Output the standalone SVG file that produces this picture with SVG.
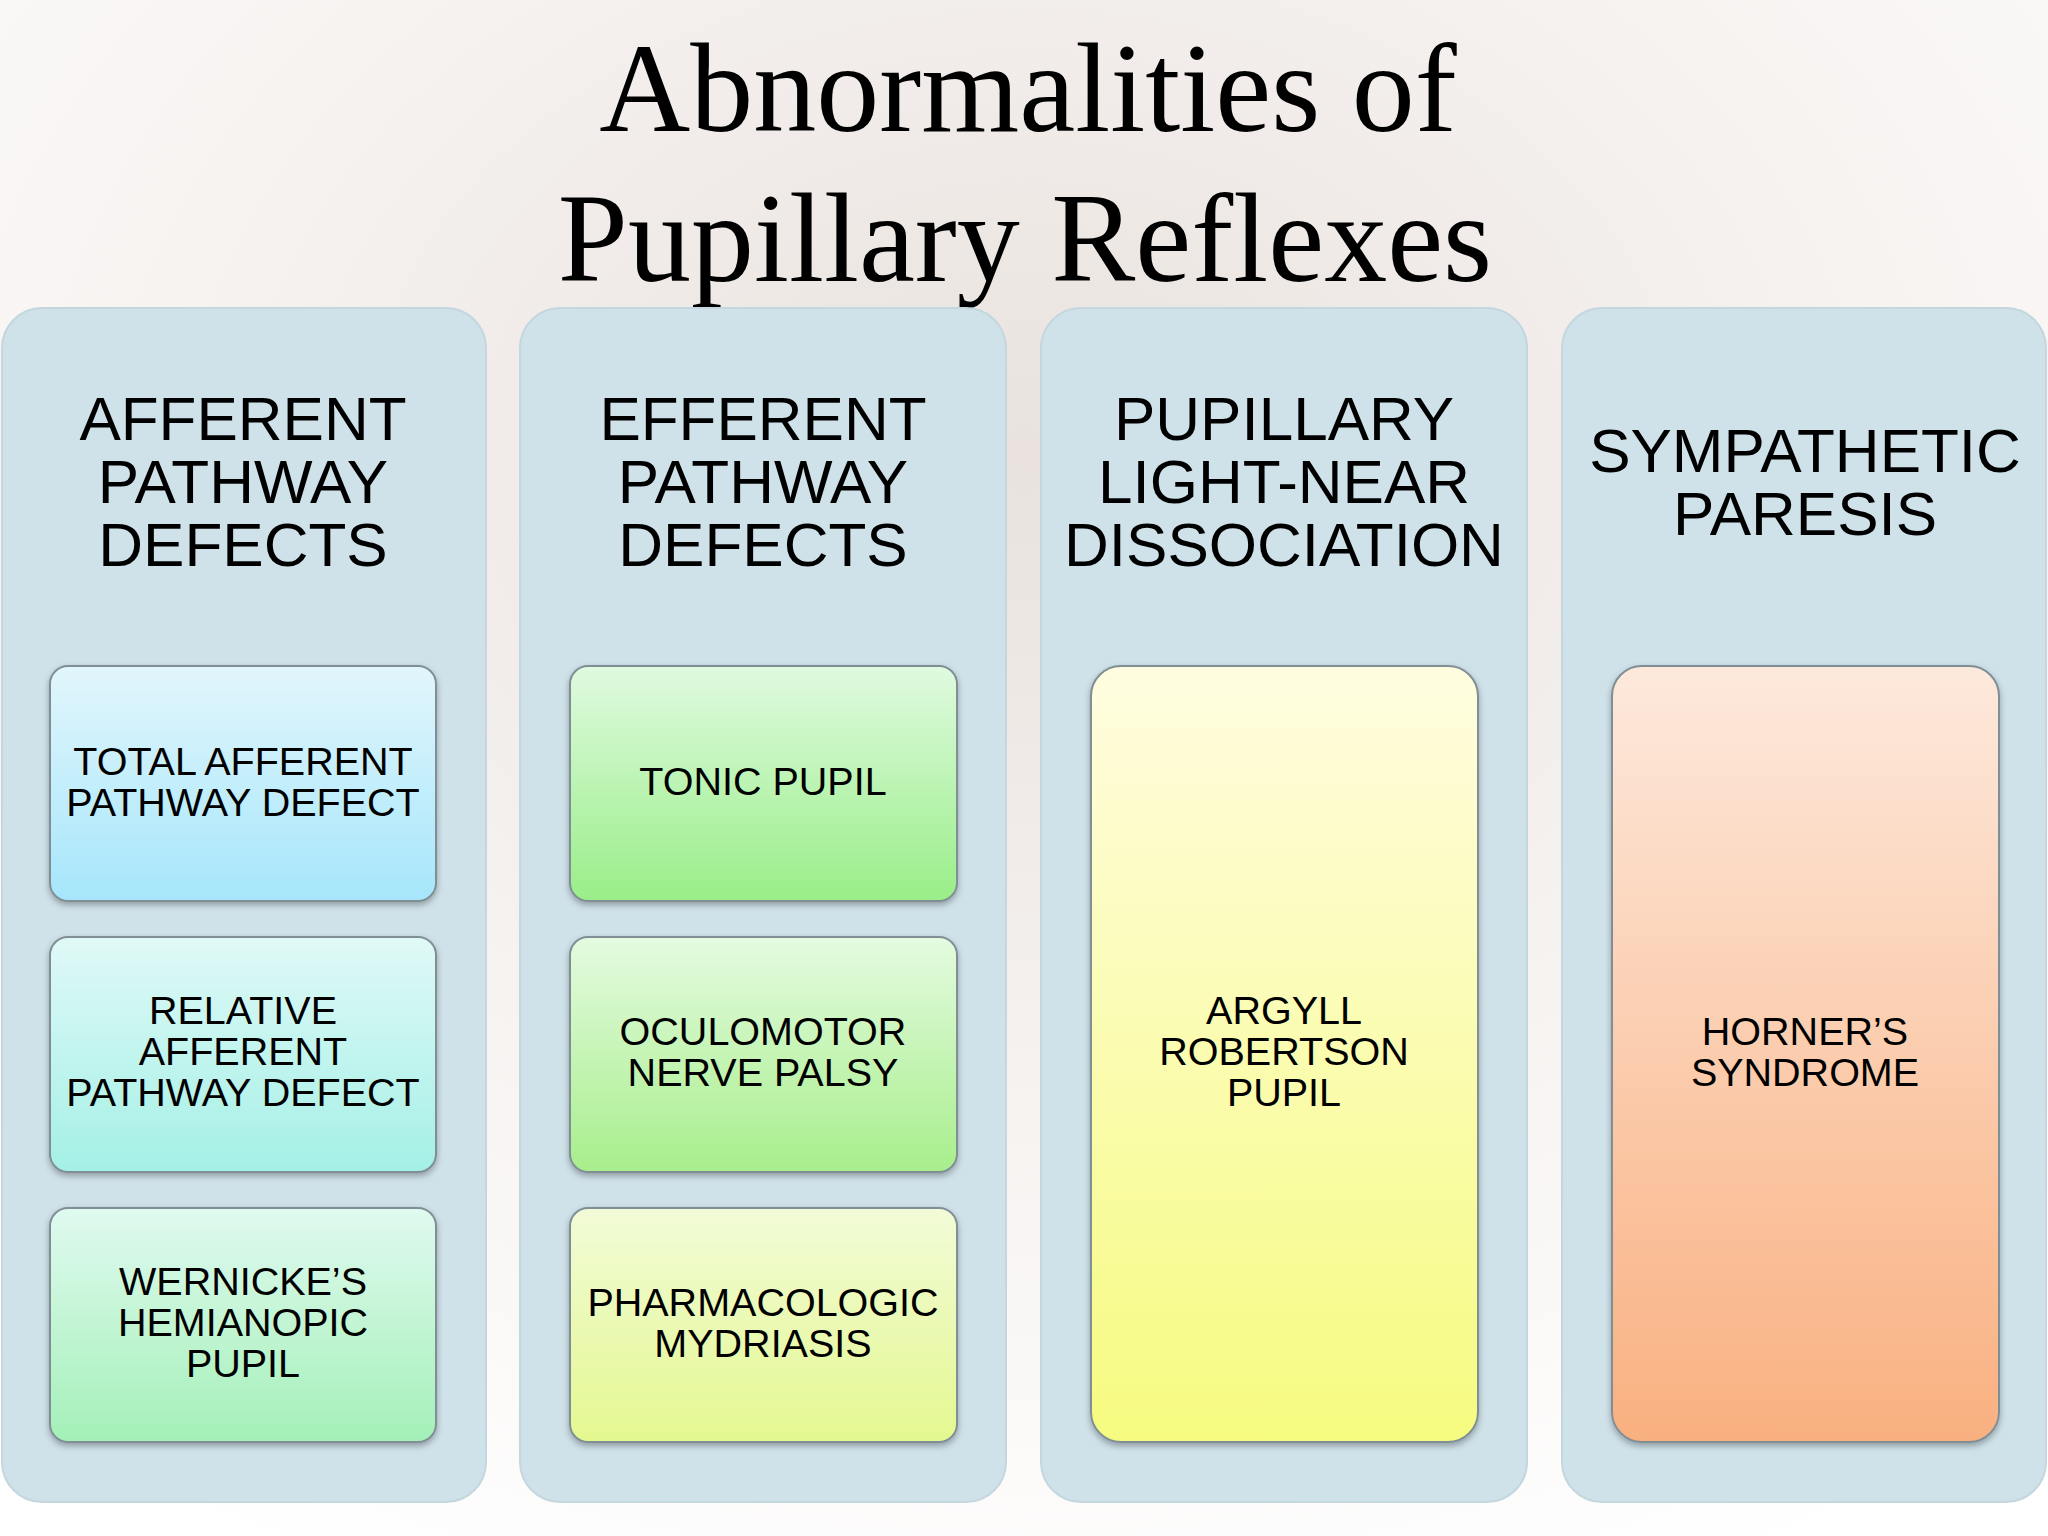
<svg xmlns="http://www.w3.org/2000/svg" width="2048" height="1536" viewBox="0 0 2048 1536">
<defs>
<radialGradient id="bg" cx="0.5" cy="0.3" r="0.8"><stop offset="0" stop-color="#e9e2de"/><stop offset="0.5" stop-color="#f6f2f0"/><stop offset="1" stop-color="#ffffff"/></radialGradient>
<linearGradient id="gBlue" x1="0" y1="0" x2="0" y2="1"><stop offset="0" stop-color="#e2f6fc"/><stop offset="1" stop-color="#a6e6fb"/></linearGradient>
<linearGradient id="gCyan" x1="0" y1="0" x2="0" y2="1"><stop offset="0" stop-color="#e0f9f7"/><stop offset="1" stop-color="#a4f0e6"/></linearGradient>
<linearGradient id="gMint" x1="0" y1="0" x2="0" y2="1"><stop offset="0" stop-color="#e0faf0"/><stop offset="1" stop-color="#a4f0b8"/></linearGradient>
<linearGradient id="gGreen" x1="0" y1="0" x2="0" y2="1"><stop offset="0" stop-color="#e0fae0"/><stop offset="1" stop-color="#99ee88"/></linearGradient>
<linearGradient id="gGreen2" x1="0" y1="0" x2="0" y2="1"><stop offset="0" stop-color="#e4fbe0"/><stop offset="1" stop-color="#a8ee8c"/></linearGradient>
<linearGradient id="gLime" x1="0" y1="0" x2="0" y2="1"><stop offset="0" stop-color="#f2fbd8"/><stop offset="1" stop-color="#e4f890"/></linearGradient>
<linearGradient id="gYellow" x1="0" y1="0" x2="0" y2="1"><stop offset="0" stop-color="#fffde0"/><stop offset="1" stop-color="#f6fb80"/></linearGradient>
<linearGradient id="gOrange" x1="0" y1="0" x2="0" y2="1"><stop offset="0" stop-color="#fde9dc"/><stop offset="1" stop-color="#f9b080"/></linearGradient>
<filter id="sh" x="-10%" y="-10%" width="120%" height="120%"><feDropShadow dx="0" dy="3" stdDeviation="3" flood-color="#000" flood-opacity="0.3"/></filter>
</defs>
<style>
.col{fill:#cfe1e9;stroke:#c4d6de;stroke-width:2}
.box{stroke:#7f8f95;stroke-width:2;filter:url(#sh)}
.h{font-family:"Liberation Sans",Arial,sans-serif;font-size:62px;fill:#000;text-anchor:middle}
.t{font-family:"Liberation Sans",Arial,sans-serif;font-size:39.5px;fill:#000;text-anchor:middle}
.title{font-family:"Liberation Serif","Times New Roman",serif;font-size:126px;fill:#000;text-anchor:middle}
</style>
<rect width="2048" height="1536" fill="url(#bg)"/>
<g id="title"><text class="title" x="1028" y="131">Abnormalities of</text><text class="title" x="1025" y="281">Pupillary Reflexes</text></g>
<g id="col1"><rect class="col" x="2" y="308" width="484" height="1194" rx="40"/>
<text class="h" x="243" y="440">AFFERENT</text><text class="h" x="243" y="503">PATHWAY</text><text class="h" x="243" y="566">DEFECTS</text></g>
<g id="col2"><rect class="col" x="520" y="308" width="486" height="1194" rx="40"/>
<text class="h" x="763" y="440">EFFERENT</text><text class="h" x="763" y="503">PATHWAY</text><text class="h" x="763" y="566">DEFECTS</text></g>
<g id="col3"><rect class="col" x="1041" y="308" width="486" height="1194" rx="40"/>
<text class="h" x="1284" y="440">PUPILLARY</text><text class="h" x="1284" y="503">LIGHT-NEAR</text><text class="h" x="1284" y="566">DISSOCIATION</text></g>
<g id="col4"><rect class="col" x="1562" y="308" width="484" height="1194" rx="40"/>
<text class="h" x="1805" y="472">SYMPATHETIC</text><text class="h" x="1805" y="535">PARESIS</text></g>
<g id="n1"><rect class="box" x="50" y="666" width="386" height="235" rx="18" fill="url(#gBlue)"/>
<text class="t" x="243" y="775">TOTAL AFFERENT</text><text class="t" x="243" y="816">PATHWAY DEFECT</text></g>
<g id="n2"><rect class="box" x="50" y="937" width="386" height="235" rx="18" fill="url(#gCyan)"/>
<text class="t" x="243" y="1024">RELATIVE</text><text class="t" x="243" y="1065">AFFERENT</text><text class="t" x="243" y="1106">PATHWAY DEFECT</text></g>
<g id="n3"><rect class="box" x="50" y="1208" width="386" height="234" rx="18" fill="url(#gMint)"/>
<text class="t" x="243" y="1295">WERNICKE’S</text><text class="t" x="243" y="1336">HEMIANOPIC</text><text class="t" x="243" y="1377">PUPIL</text></g>
<g id="n4"><rect class="box" x="570" y="666" width="387" height="235" rx="18" fill="url(#gGreen)"/>
<text class="t" x="763" y="795">TONIC PUPIL</text></g>
<g id="n5"><rect class="box" x="570" y="937" width="387" height="235" rx="18" fill="url(#gGreen2)"/>
<text class="t" x="763" y="1045">OCULOMOTOR</text><text class="t" x="763" y="1086">NERVE PALSY</text></g>
<g id="n6"><rect class="box" x="570" y="1208" width="387" height="234" rx="18" fill="url(#gLime)"/>
<text class="t" x="763" y="1316">PHARMACOLOGIC</text><text class="t" x="763" y="1357">MYDRIASIS</text></g>
<g id="n7"><rect class="box" x="1091" y="666" width="387" height="776" rx="30" fill="url(#gYellow)"/>
<text class="t" x="1284" y="1024">ARGYLL</text><text class="t" x="1284" y="1065">ROBERTSON</text><text class="t" x="1284" y="1106">PUPIL</text></g>
<g id="n8"><rect class="box" x="1612" y="666" width="387" height="776" rx="30" fill="url(#gOrange)"/>
<text class="t" x="1805" y="1045">HORNER’S</text><text class="t" x="1805" y="1086">SYNDROME</text></g>
<g id="connectors"></g>
</svg>
